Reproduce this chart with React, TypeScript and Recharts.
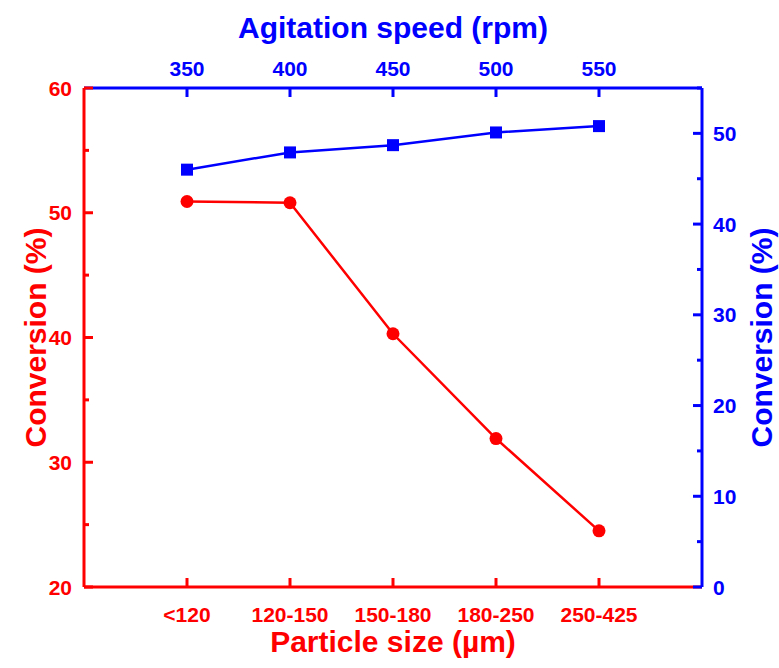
import { LineChart, Line, XAxis, YAxis } from 'recharts';

const RED = '#ff0000';
const BLUE = '#0000ff';
const FONT = '"Liberation Sans", Arial, sans-serif';

// particle size series (bottom / left axes)
const sizeLabels = ['<120', '120-150', '150-180', '180-250', '250-425'];
const sizeConversion = [50.9, 50.8, 40.3, 31.9, 24.5];

// agitation speed series (top / right axes)
const speeds = [350, 400, 450, 500, 550];
const speedConversion = [46.0, 47.9, 48.7, 50.1, 50.8];

const leftTicks = [20, 25, 30, 35, 40, 45, 50, 55, 60];
const rightTicks = [0, 5, 10, 15, 20, 25, 30, 35, 40, 45, 50, 55];

const sizeData = sizeLabels.map((label, i) => ({
  pos: i + 1,
  label,
  conv: sizeConversion[i],
}));
const speedData = speeds.map((s, i) => ({ speed: s, conv: speedConversion[i] }));

const GAP = 10; // tickMargin used on all axes, so edge = label anchor +/- GAP

function makeTick(side: string, color: string, isMajor: (v: number) => boolean, fmt?: (v: number) => string) {
  return (props: any) => {
    const { x, y, payload } = props;
    const v = payload.value;
    const major = isMajor(v);
    const len = major ? 9 : 5;
    const text = fmt ? fmt(v) : String(v);
    const common = { fill: color, fontFamily: FONT, fontWeight: 700, fontSize: 21 };
    if (side === 'left') {
      const edge = x + GAP;
      return (
        <g>
          <line x1={edge} x2={edge + len} y1={y} y2={y} stroke={color} strokeWidth={3} />
          {major && (
            <text x={edge - 12} y={y} dy="0.36em" textAnchor="end" {...common}>
              {text}
            </text>
          )}
        </g>
      );
    }
    if (side === 'right') {
      const edge = x - GAP;
      return (
        <g>
          <line x1={edge} x2={edge - len} y1={y} y2={y} stroke={color} strokeWidth={3} />
          {major && (
            <text x={edge + 11} y={y} dy="0.36em" textAnchor="start" {...common}>
              {text}
            </text>
          )}
        </g>
      );
    }
    if (side === 'bottom') {
      const edge = y - GAP;
      return (
        <g>
          <line x1={x} x2={x} y1={edge} y2={edge - len} stroke={color} strokeWidth={3} />
          <text x={x} y={edge + 35} textAnchor="middle" {...common}>
            {text}
          </text>
        </g>
      );
    }
    const edge = y + GAP;
    return (
      <g>
        <line x1={x} x2={x} y1={edge} y2={edge + len} stroke={color} strokeWidth={3} />
        <text x={x} y={edge - 12} textAnchor="middle" {...common}>
          {text}
        </text>
      </g>
    );
  };
}

function title(text: string, color: string, where: string) {
  return {
    content: (props: any) => {
      const vb = props.viewBox;
      const style = { fill: color, fontFamily: FONT, fontWeight: 700, fontSize: 30 };
      if (where === 'bottom') {
        return (
          <text x={vb.x + vb.width / 2} y={vb.y + 65} textAnchor="middle" {...style}>
            {text}
          </text>
        );
      }
      if (where === 'top') {
        return (
          <text x={vb.x + vb.width / 2} y={38} textAnchor="middle" {...style}>
            {text}
          </text>
        );
      }
      const cx = where === 'left' ? 46 : 772;
      const cy = vb.y + vb.height / 2;
      return (
        <text x={cx} y={cy} textAnchor="middle" transform={`rotate(-90 ${cx} ${cy})`} {...style}>
          {text}
        </text>
      );
    },
  };
}

const RedDot = (p: any) => <circle cx={p.cx} cy={p.cy} r={6.5} fill={RED} />;
const BlueSquare = (p: any) => <rect x={p.cx - 6} y={p.cy - 6} width={12} height={12} fill={BLUE} />;

export default function App() {
  return (
    <div style={{ width: 779, height: 668, background: '#fff' }}>
      <style>{'body{margin:0}'}</style>
      <LineChart width={779} height={668} margin={{ top: 0, right: 0, bottom: 0, left: 0 }}>
        <XAxis
          xAxisId="bottom"
          dataKey="pos"
          type="number"
          domain={[0, 6]}
          ticks={[1, 2, 3, 4, 5]}
          orientation="bottom"
          height={81}
          axisLine={{ stroke: RED, strokeWidth: 3 }}
          tickLine={false}
          tickSize={0}
          tickMargin={GAP}
          interval={0}
          tick={makeTick('bottom', RED, () => true, (v) => sizeLabels[v - 1])}
          label={title('Particle size (µm)', RED, 'bottom')}
        />
        <XAxis
          xAxisId="top"
          dataKey="speed"
          type="number"
          domain={[300, 600]}
          ticks={speeds}
          orientation="top"
          height={88}
          axisLine={{ stroke: BLUE, strokeWidth: 3 }}
          tickLine={false}
          tickSize={0}
          tickMargin={GAP}
          interval={0}
          tick={makeTick('top', BLUE, () => true)}
          label={title('Agitation speed (rpm)', BLUE, 'top')}
        />
        <YAxis
          yAxisId="left"
          orientation="left"
          type="number"
          domain={[20, 60]}
          ticks={leftTicks}
          width={84}
          axisLine={{ stroke: RED, strokeWidth: 3 }}
          tickLine={false}
          tickSize={0}
          tickMargin={GAP}
          interval={0}
          tick={makeTick('left', RED, (v) => v % 10 === 0)}
          label={title('Conversion (%)', RED, 'left')}
        />
        <YAxis
          yAxisId="right"
          orientation="right"
          type="number"
          domain={[0, 55]}
          ticks={rightTicks}
          width={77}
          axisLine={{ stroke: BLUE, strokeWidth: 3 }}
          tickLine={false}
          tickSize={0}
          tickMargin={GAP}
          interval={0}
          tick={makeTick('right', BLUE, (v) => v % 10 === 0)}
          label={title('Conversion (%)', BLUE, 'right')}
        />
        <Line
          data={sizeData}
          xAxisId="bottom"
          yAxisId="left"
          dataKey="conv"
          stroke={RED}
          strokeWidth={2.5}
          dot={<RedDot />}
          activeDot={false}
          isAnimationActive={false}
        />
        <Line
          data={speedData}
          xAxisId="top"
          yAxisId="right"
          dataKey="conv"
          stroke={BLUE}
          strokeWidth={2.5}
          dot={<BlueSquare />}
          activeDot={false}
          isAnimationActive={false}
        />
      </LineChart>
    </div>
  );
}
